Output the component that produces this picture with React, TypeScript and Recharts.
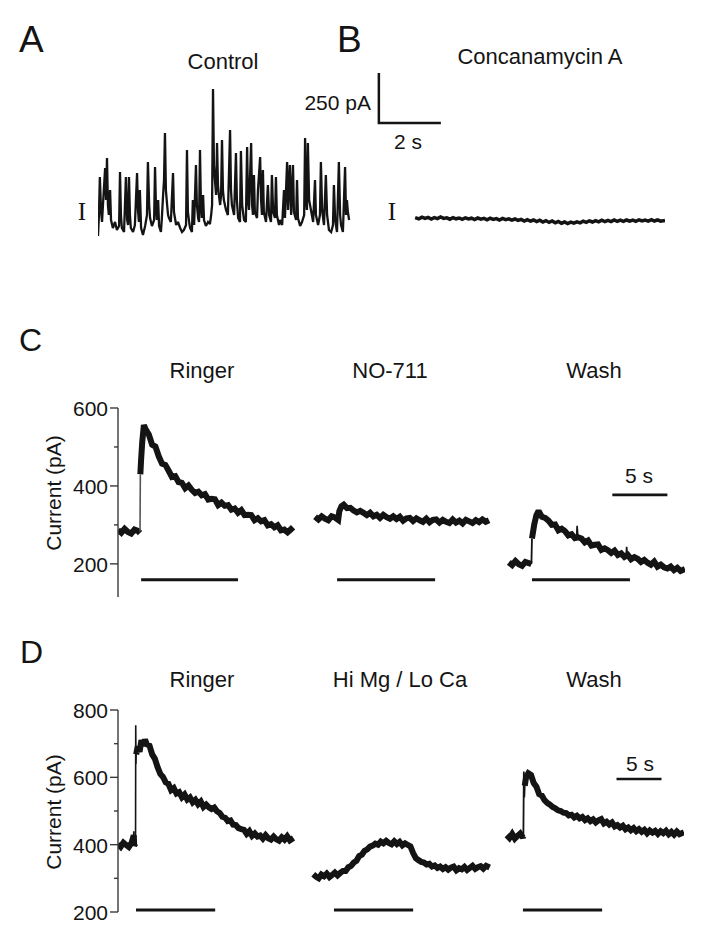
import React from 'react';
import { LineChart, Line, XAxis, YAxis, ReferenceLine } from 'recharts';

// ---- A / B: spontaneous currents (t in s, current in pA, arbitrary offset) ----
const controlTrace = [
  [0.00, 20], [0.03, 125], [0.06, 315], [0.10, 140], [0.13, 90], [0.16, 175], [0.23, 360], [0.26, 200],
  [0.29, 410], [0.32, 175], [0.35, 125], [0.39, 250], [0.42, 100], [0.48, 60], [0.55, 90], [0.61, 50],
  [0.68, 70], [0.71, 340], [0.74, 125], [0.77, 60], [0.84, 40], [0.87, 175], [0.90, 315], [0.94, 100],
  [0.97, 75], [1.00, 315], [1.03, 125], [1.06, 60], [1.13, 40], [1.19, 75], [1.26, 335], [1.29, 150],
  [1.32, 90], [1.35, 250], [1.39, 60], [1.45, 25], [1.52, 70], [1.58, 125], [1.61, 390], [1.65, 175],
  [1.68, 110], [1.74, 70], [1.81, 100], [1.84, 365], [1.87, 160], [1.90, 100], [1.94, 200], [1.97, 70],
  [2.03, 40], [2.06, 110], [2.10, 225], [2.13, 300], [2.16, 535], [2.19, 250], [2.23, 175], [2.26, 125],
  [2.29, 110], [2.35, 90], [2.42, 335], [2.45, 140], [2.52, 75], [2.58, 90], [2.65, 60], [2.71, 40],
  [2.77, 50], [2.84, 75], [2.87, 450], [2.90, 140], [2.94, 90], [2.97, 60], [3.03, 40], [3.06, 200],
  [3.10, 75], [3.16, 375], [3.19, 175], [3.23, 110], [3.26, 90], [3.29, 450], [3.32, 175], [3.35, 110],
  [3.39, 225], [3.42, 100], [3.48, 70], [3.55, 90], [3.61, 80], [3.65, 125], [3.68, 175], [3.71, 755],
  [3.74, 375], [3.77, 300], [3.81, 225], [3.84, 485], [3.87, 275], [3.90, 225], [3.94, 175], [3.97, 225],
  [4.00, 500], [4.03, 250], [4.06, 200], [4.13, 150], [4.19, 125], [4.26, 550], [4.29, 250], [4.32, 175],
  [4.39, 125], [4.45, 435], [4.48, 200], [4.52, 110], [4.58, 90], [4.61, 445], [4.65, 175], [4.71, 100],
  [4.77, 90], [4.81, 465], [4.84, 200], [4.87, 150], [4.94, 485], [4.97, 175], [5.00, 125], [5.03, 325],
  [5.06, 140], [5.13, 110], [5.16, 250], [5.23, 415], [5.26, 200], [5.29, 125], [5.32, 350], [5.35, 140],
  [5.42, 90], [5.48, 275], [5.52, 125], [5.58, 90], [5.61, 325], [5.65, 140], [5.71, 110], [5.74, 315],
  [5.77, 125], [5.84, 75], [5.87, 100], [5.94, 75], [6.00, 250], [6.03, 110], [6.10, 390], [6.13, 150],
  [6.19, 375], [6.23, 125], [6.29, 375], [6.32, 140], [6.39, 100], [6.42, 300], [6.45, 110], [6.52, 70],
  [6.58, 90], [6.65, 125], [6.68, 510], [6.71, 200], [6.74, 150], [6.77, 485], [6.81, 200], [6.87, 150],
  [6.94, 90], [7.00, 300], [7.03, 125], [7.10, 75], [7.16, 125], [7.19, 390], [7.23, 150], [7.29, 75],
  [7.35, 325], [7.39, 125], [7.45, 50], [7.52, 40], [7.58, 75], [7.61, 275], [7.65, 100], [7.71, 40],
  [7.77, 390], [7.81, 125], [7.84, 75], [7.90, 40], [7.97, 365], [8.00, 125], [8.03, 200], [8.06, 140],
  [8.10, 100],
];

const concanamycinTrace = [
  [10.23, 112], [10.35, 106], [10.45, 114], [10.55, 108], [10.65, 113], [10.75, 105], [10.85, 112],
  [10.95, 107], [11.05, 115], [11.15, 108], [11.25, 111], [11.35, 104], [11.45, 112], [11.55, 106],
  [11.65, 110], [11.75, 103], [11.85, 111], [11.95, 105], [12.05, 109], [12.15, 102], [12.25, 110],
  [12.35, 104], [12.45, 108], [12.55, 101], [12.65, 109], [12.75, 103], [12.85, 107], [12.95, 100],
  [13.05, 108], [13.15, 102], [13.25, 106], [13.35, 99], [13.45, 105], [13.55, 98], [13.65, 103],
  [13.75, 95], [13.85, 102], [13.95, 94], [14.05, 100], [14.15, 92], [14.25, 99], [14.35, 90],
  [14.45, 97], [14.55, 88], [14.65, 95], [14.75, 86], [14.85, 93], [14.95, 84], [15.05, 90],
  [15.15, 82], [15.25, 89], [15.35, 84], [15.45, 91], [15.55, 86], [15.65, 94], [15.75, 88],
  [15.85, 96], [15.95, 90], [16.05, 97], [16.15, 91], [16.25, 99], [16.35, 92], [16.45, 98],
  [16.55, 92], [16.65, 100], [16.75, 93], [16.85, 99], [16.95, 93], [17.05, 100], [17.15, 94],
  [17.25, 99], [17.35, 93], [17.45, 101], [17.55, 95], [17.65, 100], [17.75, 94], [17.85, 102],
  [17.95, 95], [18.05, 101], [18.15, 94], [18.29, 98],
];

// 250 pA / 2 s calibration
const scaleBarAB = [[9.06, 835], [9.06, 585], [11.06, 585]];

// ---- C: GABA transporter block (NO-711) ----
// null = break in the noisy band where the fast onset is drawn as a thin line
const cRinger = [
  [0, 287], [0.3, 280], [0.6, 290], [0.9, 282], [1.2, 278], [1.5, 288], [1.8, 285], [2.0, 279],
  [2.02, null], [2.03, 430], [2.1, 468], [2.2, 512], [2.35, 556], [2.5, 546], [2.8, 532], [3.1, 506],
  [3.4, 501], [3.7, 476], [4.0, 457], [4.3, 454], [4.6, 439], [4.9, 423], [5.2, 425], [5.5, 410],
  [5.8, 408], [6.1, 394], [6.4, 401], [6.7, 390], [7.0, 382], [7.3, 385], [7.6, 376], [7.9, 379],
  [8.2, 365], [8.5, 367], [8.8, 366], [9.1, 351], [9.4, 357], [9.7, 349], [10.0, 351], [10.3, 339],
  [10.6, 342], [10.9, 331], [11.2, 338], [11.5, 325], [11.8, 326], [12.1, 325], [12.4, 312],
  [12.7, 317], [13.0, 309], [13.3, 312], [13.6, 299], [13.9, 302], [14.2, 294], [14.5, 299],
  [14.8, 286], [15.1, 288], [15.4, 281], [15.7, 289], [15.9, 283],
];
const cRingerOnset = [[2.0, 283], [2.03, 430]];

const cNo711 = [
  [17.9, 321], [18.2, 314], [18.5, 322], [18.8, 316], [19.1, 312], [19.4, 322], [19.7, 319],
  [20.0, 313], [20.1, 335], [20.3, 348], [20.5, 352], [20.8, 343], [21.1, 344], [21.4, 337],
  [21.7, 332], [22.0, 336], [22.3, 331], [22.6, 325], [22.9, 331], [23.2, 322], [23.5, 326],
  [23.8, 318], [24.1, 326], [24.4, 320], [24.7, 316], [25.0, 322], [25.3, 315], [25.6, 321],
  [25.9, 311], [26.2, 317], [26.5, 318], [26.8, 310], [27.1, 317], [27.4, 312], [27.7, 308],
  [28.0, 316], [28.3, 307], [28.6, 313], [28.9, 314], [29.2, 306], [29.5, 313], [29.8, 308],
  [30.1, 305], [30.4, 314], [30.7, 306], [31.0, 311], [31.3, 304], [31.6, 313], [31.9, 309],
  [32.2, 305], [32.5, 312], [32.8, 307], [33.1, 314], [33.4, 308], [33.7, 312],
];

const cWash = [
  [35.5, 204], [35.8, 197], [36.1, 207], [36.4, 199], [36.7, 195], [37.0, 205], [37.3, 202],
  [37.55, 199], [37.58, null], [37.6, 265], [37.8, 300], [38.0, 325], [38.2, 336], [38.5, 321],
  [38.8, 318], [39.1, 311], [39.4, 300], [39.7, 301], [40.0, 286], [40.3, 290], [40.6, 284],
  [40.9, 273], [41.2, 276], [41.5, 266], [41.8, 268], [42.1, 265], [42.4, 255], [42.7, 260],
  [43.0, 247], [43.3, 249], [43.6, 250], [43.9, 236], [44.2, 240], [44.5, 235], [44.8, 228],
  [45.1, 234], [45.4, 223], [45.7, 227], [46.0, 218], [46.3, 223], [46.6, 212],
  [46.9, 217], [47.2, 213], [47.5, 205], [47.8, 210], [48.1, 203], [48.4, 198], [48.7, 206],
  [49.0, 193], [49.3, 198], [49.6, 191], [49.9, 188], [50.2, 193], [50.5, 184], [50.8, 190],
  [51.1, 182], [51.5, 187],
];
const cWashOnset = [[37.55, 200], [37.6, 265]];
const cWashBlips = [[[41.65, 268], [41.7, 298], [41.78, 268]], [[46.15, 220], [46.2, 244], [46.28, 220]]];

// stimulus bars: [start, end, level]
const cStimBars = [[2.1, 10.9, 159], [19.9, 28.8, 159], [37.6, 46.5, 159]];
const cScaleBar = [44.9, 49.9, 377]; // 5 s
const cTicks = [200, 300, 400, 500, 600];
const cTitles = ['Ringer', 'NO-711', 'Wash'];

// ---- D: Hi Mg / Lo Ca ----
const dRinger = [
  [0.0, 402], [0.3, 394], [0.6, 406], [0.9, 399], [1.2, 393], [1.5, 405], [1.75, 428], [1.8, 398],
  [1.95, 404], [1.97, null], [2.02, 668], [2.2, 692], [2.4, 676], [2.6, 710], [2.8, 694], [3.0, 712],
  [3.2, 698], [3.5, 694], [3.8, 668], [4.1, 655], [4.4, 630], [4.7, 610], [5.0, 601], [5.3, 585],
  [5.6, 581], [5.9, 562], [6.2, 568], [6.5, 552], [6.8, 556], [7.1, 541], [7.4, 549], [7.7, 534],
  [8.0, 540], [8.3, 526], [8.6, 533], [8.9, 520], [9.2, 528], [9.5, 512], [9.8, 519], [10.1, 511],
  [10.4, 506], [10.7, 510], [11.0, 499], [11.3, 494], [11.6, 483], [11.9, 480], [12.2, 470],
  [12.5, 472], [12.8, 459], [13.1, 458], [13.4, 449], [13.7, 446], [14.0, 444], [14.3, 432],
  [14.6, 440], [14.9, 426], [15.2, 433], [15.5, 424], [15.8, 427], [16.1, 418], [16.4, 428],
  [16.7, 419], [17.0, 415], [17.3, 424], [17.6, 416], [17.9, 412], [18.2, 422], [18.5, 415],
  [18.8, 425], [19.1, 413], [19.5, 420],
];
const dRingerOnset = [[1.72, 400], [1.75, 440], [1.78, 400], [1.95, 404], [1.97, 755], [2.0, 640], [2.02, 668]];

const dHiMg = [
  [21.7, 312], [22.0, 305], [22.3, 300], [22.6, 311], [22.9, 306], [23.2, 314], [23.5, 304],
  [23.8, 310], [24.1, 317], [24.4, 309], [24.7, 316], [25.0, 322], [25.3, 322], [25.6, 333],
  [25.9, 337], [26.2, 347], [26.5, 352], [26.8, 366], [27.1, 370], [27.4, 382], [27.7, 386],
  [28.0, 394], [28.3, 397], [28.6, 403], [28.9, 400], [29.2, 409], [29.5, 404], [29.8, 411],
  [30.1, 405], [30.4, 401], [30.7, 410], [31.0, 402], [31.3, 408], [31.6, 398], [31.9, 404],
  [32.2, 399], [32.5, 395], [32.8, 375], [33.1, 360], [33.4, 354], [33.7, 349], [34.0, 347],
  [34.3, 341], [34.6, 343], [34.9, 335], [35.2, 338], [35.5, 331], [35.8, 335], [36.1, 328],
  [36.4, 333], [36.7, 326], [37.0, 332], [37.3, 335], [37.6, 324], [37.9, 330], [38.2, 327],
  [38.5, 334], [38.8, 325], [39.1, 331], [39.4, 337], [39.7, 328], [40.0, 333], [40.3, 336],
  [40.6, 329], [40.9, 337], [41.3, 332],
];

const dWash = [
  [43.2, 428], [43.5, 420], [43.8, 432], [44.1, 418], [44.4, 426], [44.7, 433], [45.0, 421],
  [45.05, 425], [45.08, null], [45.2, 575], [45.35, 600], [45.6, 612], [45.9, 607], [46.2, 583],
  [46.5, 572], [46.8, 550], [47.1, 546], [47.4, 532], [47.7, 524], [48.0, 519], [48.3, 512],
  [48.6, 508], [48.9, 502], [49.2, 500], [49.5, 495], [49.8, 494], [50.1, 487], [50.4, 489],
  [50.7, 481], [51.0, 486], [51.3, 478], [51.6, 482], [51.9, 473], [52.2, 478], [52.5, 470],
  [52.8, 475], [53.1, 466], [53.4, 472], [53.7, 476], [54.0, 463], [54.3, 468], [54.6, 460],
  [54.9, 466], [55.2, 454], [55.5, 458], [55.8, 451], [56.1, 456], [56.4, 446], [56.7, 451],
  [57.0, 443], [57.3, 449], [57.6, 440], [57.9, 446], [58.2, 438], [58.5, 444], [58.8, 434],
  [59.1, 442], [59.4, 436], [59.7, 441], [60.0, 432], [60.3, 440], [60.6, 434], [60.9, 441],
  [61.2, 431], [61.5, 438], [61.8, 430], [62.1, 439], [62.4, 431], [62.9, 437],
];
const dWashOnset = [[45.05, 425], [45.1, 617], [45.15, 540], [45.2, 575]];

const dStimBars = [[2.0, 10.8, 206], [24.0, 32.8, 206], [45.0, 53.8, 206]];
const dScaleBar = [55.4, 60.4, 595]; // 5 s
const dTicks = [200, 300, 400, 500, 600, 700, 800];
const dTitles = ['Ringer', 'Hi Mg / Lo Ca', 'Wash'];

const toPts = (rows: (number | null)[][]) => rows.map(([t, v]) => ({ t, v }));

const INK = '#141414';
const AXIS = '#3a3a3a';
const FONT = '"Liberation Sans", Arial, Helvetica, sans-serif';

// major ticks every 200 pA carry a label, the 100 pA ones are short minor ticks
const CurrentTick = (props: any) => {
  const { x, y, payload } = props;
  const major = payload.value % 200 === 0;
  return (
    <g>
      <line x1={x - (major ? 8 : 4)} x2={x} y1={y} y2={y} stroke={AXIS} strokeWidth={1.4} />
      {major && (
        <text x={x - 10} y={y + 8} textAnchor="end" fontSize={21} fontFamily={FONT} fill={INK}>
          {payload.value}
        </text>
      )}
    </g>
  );
};

const traceProps = {
  type: 'linear' as const,
  dataKey: 'v',
  dot: false,
  activeDot: false,
  isAnimationActive: false,
  stroke: INK,
  strokeLinejoin: 'miter' as const,
  strokeMiterlimit: 2,
};

const currentAxis = (domain: number[], ticks: number[]) => (
  <YAxis
    type="number"
    width={118}
    domain={domain}
    allowDataOverflow
    ticks={ticks}
    interval={0}
    tickSize={0}
    tickMargin={0}
    tickLine={false}
    axisLine={{ stroke: AXIS, strokeWidth: 1.4 }}
    tick={<CurrentTick />}
  />
);

const App: React.FC = () => {
  return (
    <div style={{ position: 'absolute', left: 0, top: 0, width: 711, height: 947, background: '#fff' }}>
      {/* A + B */}
      <div style={{ position: 'absolute', left: 0, top: 0 }}>
        <LineChart width={711} height={260} margin={{ top: 60, right: 46, bottom: 20, left: 98 }}>
          <XAxis type="number" dataKey="t" domain={[0, 18.29]} hide allowDataOverflow />
          <YAxis type="number" domain={[0, 900]} hide allowDataOverflow />
          <Line {...traceProps} data={toPts(controlTrace)} strokeWidth={2.3} />
          <Line {...traceProps} data={toPts(concanamycinTrace)} strokeWidth={3.5} />
          <Line {...traceProps} data={toPts(scaleBarAB)} strokeWidth={2.5} />
        </LineChart>
      </div>

      {/* C */}
      <div style={{ position: 'absolute', left: 0, top: 380 }}>
        <LineChart width={711} height={240} margin={{ top: 28, right: 26, bottom: 23, left: 0 }}>
          <XAxis type="number" dataKey="t" domain={[0, 51.5]} hide allowDataOverflow />
          {currentAxis([115, 600], cTicks)}
          <Line {...traceProps} data={toPts(cRinger)} strokeWidth={6} />
          <Line {...traceProps} data={toPts(cRingerOnset)} strokeWidth={1.6} stroke="#555" />
          <Line {...traceProps} data={toPts(cNo711)} strokeWidth={6} />
          <Line {...traceProps} data={toPts(cWash)} strokeWidth={6} />
          <Line {...traceProps} data={toPts(cWashOnset)} strokeWidth={1.8} />
          {cWashBlips.map((b, i) => (
            <Line key={`blip${i}`} {...traceProps} data={toPts(b)} strokeWidth={1.6} />
          ))}
          {cStimBars.map(([a, b, lvl], i) => (
            <ReferenceLine key={i} segment={[{ x: a, y: lvl }, { x: b, y: lvl }]} stroke={INK} strokeWidth={3} />
          ))}
          <ReferenceLine
            segment={[{ x: cScaleBar[0], y: cScaleBar[2] }, { x: cScaleBar[1], y: cScaleBar[2] }]}
            stroke={INK}
            strokeWidth={2.6}
          />
        </LineChart>
      </div>

      {/* D */}
      <div style={{ position: 'absolute', left: 0, top: 690 }}>
        <LineChart width={711} height={240} margin={{ top: 20, right: 27, bottom: 18, left: 0 }}>
          <XAxis type="number" dataKey="t" domain={[0, 62.9]} hide allowDataOverflow />
          {currentAxis([200, 800], dTicks)}
          <Line {...traceProps} data={toPts(dRinger)} strokeWidth={6} />
          <Line {...traceProps} data={toPts(dRingerOnset)} strokeWidth={1.6} />
          <Line {...traceProps} data={toPts(dHiMg)} strokeWidth={6} />
          <Line {...traceProps} data={toPts(dWash)} strokeWidth={6} />
          <Line {...traceProps} data={toPts(dWashOnset)} strokeWidth={1.8} />
          {dStimBars.map(([a, b, lvl], i) => (
            <ReferenceLine key={i} segment={[{ x: a, y: lvl }, { x: b, y: lvl }]} stroke={INK} strokeWidth={3} />
          ))}
          <ReferenceLine
            segment={[{ x: dScaleBar[0], y: dScaleBar[2] }, { x: dScaleBar[1], y: dScaleBar[2] }]}
            stroke={INK}
            strokeWidth={2.6}
          />
        </LineChart>
      </div>

      {/* labels */}
      <svg
        width={711}
        height={947}
        style={{ position: 'absolute', left: 0, top: 0, pointerEvents: 'none' }}
        fontFamily={FONT}
        fill={INK}
      >
        <text x={19} y={52} fontSize={37}>A</text>
        <text x={337} y={52} fontSize={37}>B</text>
        <text x={223} y={69} fontSize={22} textAnchor="middle">Control</text>
        <text x={540} y={64} fontSize={22} textAnchor="middle">Concanamycin A</text>
        <text x={371} y={110} fontSize={21} textAnchor="end">250 pA</text>
        <text x={408} y={149} fontSize={21} textAnchor="middle">2 s</text>
        <text x={82} y={220} fontSize={25} fontFamily='"Liberation Serif", serif' textAnchor="middle">I</text>
        <text x={392} y={220} fontSize={25} fontFamily='"Liberation Serif", serif' textAnchor="middle">I</text>

        <text x={19} y={351} fontSize={32}>C</text>
        {cTitles.map((s, i) => (
          <text key={s} x={[202, 390, 594][i]} y={378} fontSize={22} textAnchor="middle">{s}</text>
        ))}
        <text x={639} y={483} fontSize={21} textAnchor="middle">5 s</text>
        <text x={61} y={493} fontSize={21} textAnchor="middle" transform="rotate(-90 61 493)">Current (pA)</text>

        <text x={20} y={663} fontSize={32}>D</text>
        {dTitles.map((s, i) => (
          <text key={s} x={[202, 400, 594][i]} y={687} fontSize={22} textAnchor="middle">{s}</text>
        ))}
        <text x={640} y={771} fontSize={21} textAnchor="middle">5 s</text>
        <text x={61} y={812} fontSize={21} textAnchor="middle" transform="rotate(-90 61 812)">Current (pA)</text>
      </svg>
    </div>
  );
};

export default App;
